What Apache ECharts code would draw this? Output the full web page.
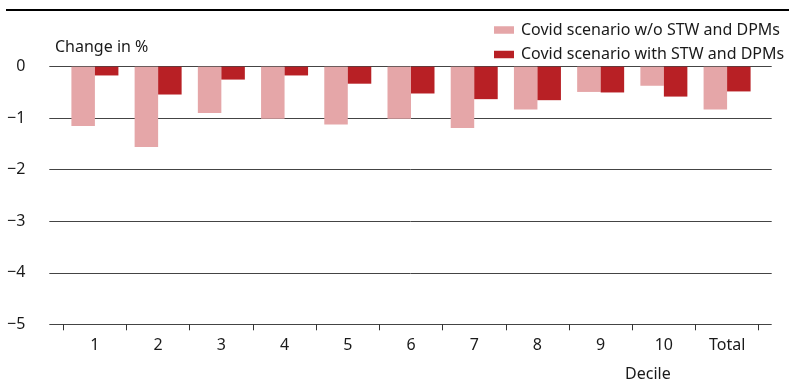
<!DOCTYPE html>
<html>
<head>
<meta charset="utf-8">
<script src="https://cdn.jsdelivr.net/npm/echarts@6/dist/echarts.min.js"></script>
<style>html,body{margin:0;padding:0;background:#fff}#c{width:789px;height:383px}</style>
</head>
<body>
<div id="c"></div>
<script>
var categories = ['1','2','3','4','5','6','7','8','9','10','Total'];
var seriesNames = ['Covid scenario w/o STW and DPMs', 'Covid scenario with STW and DPMs'];
var withoutSTW = [-1.15, -1.56, -0.90, -1.01, -1.12, -1.01, -1.19, -0.83, -0.49, -0.37, -0.83];
var withSTW = [-0.17, -0.54, -0.25, -0.17, -0.33, -0.52, -0.63, -0.65, -0.50, -0.58, -0.48];
var yTicks = [0, -1, -2, -3, -4, -5];

var FONT = '"Noto Sans", sans-serif';
var FS = 16;
var chart = echarts.init(document.getElementById('c'), null, {renderer: 'canvas'});
function fmt(v){ return v === 0 ? '0' : '\u2212' + Math.abs(v); }
chart.setOption({
  animation: false,
  textStyle: {fontFamily: FONT},
  grid: [
    {left: 49.3, right: 17.3, top: 66.7, bottom: 58.7},
    {left: 63.3, right: 30.3, top: 66.7, bottom: 58.7}
  ],
  legend: {
    orient: 'vertical', left: 489, top: 16.5, itemWidth: 20, itemHeight: 7.5, itemGap: 7.5,
    icon: 'rect',
    textStyle: {fontFamily: FONT, fontSize: FS, color: '#1a1a1a', lineHeight: 17, padding: [0,0,0,2]},
    data: seriesNames
  },
  xAxis: [
    {gridIndex: 0, type: 'value', min: 0, max: 1, show: false},
    {gridIndex: 1, type: 'category', data: categories, boundaryGap: true,
     axisLine: {show: true, onZero: false, lineStyle: {color: '#444', width: 1}},
     axisTick: {show: true, length: 6, lineStyle: {color: '#333', width: 1}},
     axisLabel: {fontFamily: FONT, fontSize: FS, color: '#1a1a1a', margin: 13}}
  ],
  yAxis: [
    {gridIndex: 0, type: 'value', min: -5, max: 0, interval: 1,
     axisLine: {show: false}, axisTick: {show: false},
     splitLine: {show: true, lineStyle: {color: '#444', width: 1}},
     axisLabel: {fontFamily: FONT, fontSize: FS, color: '#1a1a1a', margin: 24, formatter: fmt}},
    {gridIndex: 1, type: 'value', min: -5, max: 0, interval: 1, show: false, splitLine: {show: false}}
  ],
  series: [
    {name: seriesNames[0], type: 'bar', xAxisIndex: 1, yAxisIndex: 1, data: withoutSTW,
     barWidth: 23.5, barGap: '0%', itemStyle: {color: '#e5a6a8'}},
    {name: seriesNames[1], type: 'bar', xAxisIndex: 1, yAxisIndex: 1, data: withSTW,
     barWidth: 23.5, barGap: '0%', itemStyle: {color: '#b82025'}}
  ],
  graphic: [
    {type: 'line', shape: {x1: 6, y1: 10, x2: 789, y2: 10}, style: {stroke: '#000', lineWidth: 2}},
    {type: 'text', left: 55, top: 39, style: {text: 'Change in %', font: FS + 'px ' + FONT, fill: '#1a1a1a'}},
    {type: 'text', left: 625, top: 366, style: {text: 'Decile', font: FS + 'px ' + FONT, fill: '#1a1a1a'}}
  ]
});
</script>
</body>
</html>
